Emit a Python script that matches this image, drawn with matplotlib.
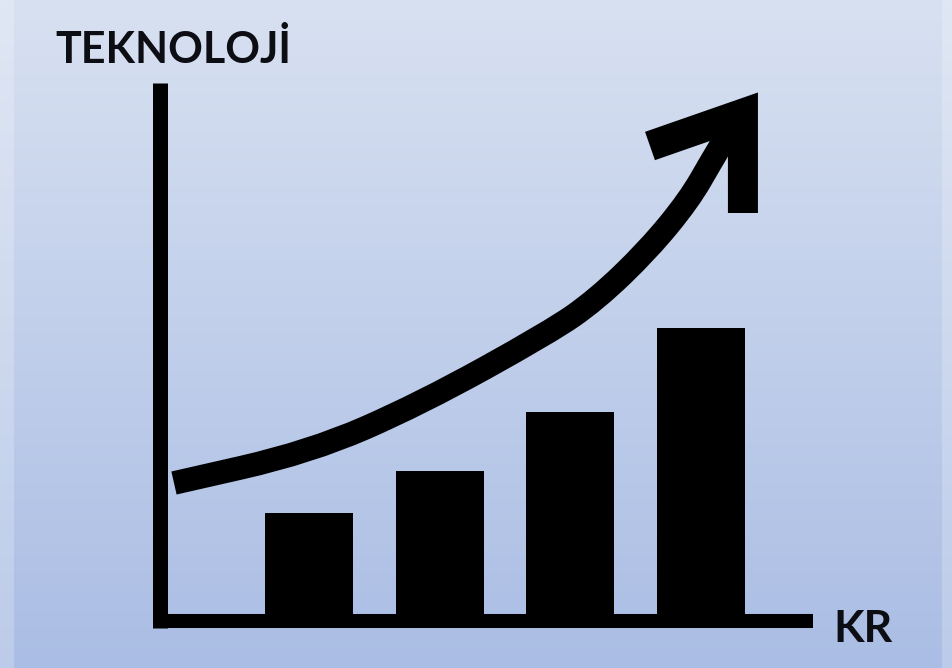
import numpy as np
import matplotlib
matplotlib.use("Agg")
import matplotlib.pyplot as plt
from matplotlib.path import Path
from matplotlib.patches import PathPatch

# Bar heights (technology level for each period)
bar_positions = [1, 2, 3, 4]
bar_values = [1.01, 1.43, 2.02, 2.86]

# Growth trend drawn over the bars
trend_x = [-0.033, 1.008, 1.849, 2.844, 3.196, 3.594, 3.908, 4.084, 4.222]
trend_y = [1.31, 1.62, 2.10, 2.82, 3.14, 3.64, 4.14, 4.54, 4.84]

# Arrow head (open chevron) at the end of the trend
head_x = [3.609, 4.320, 4.320]
head_y = [4.68, 5.004, 4.01]

y_label = "TEKNOLOJİ"
x_label = "KR"

W, H = 953, 668
fig = plt.figure(figsize=(W / 100, H / 100), dpi=100)
ax = fig.add_axes([0, 0, 1, 1])
ax.set_xlim(-1.3642, 5.9273)
ax.set_ylim(-0.54, 6.14)
ax.axis("off")

# Vertical background gradient
top = np.array([216, 225, 241]) / 255
bot = np.array([170, 189, 228]) / 255
t = np.linspace(0, 1, 256)[:, None]
grad = top[None, :] * (1 - t) + bot[None, :] * t
img = np.repeat(grad[:, None, :], 2, axis=1)
ax.imshow(img, extent=[-1.3642, 5.9273, -0.54, 6.14], aspect="auto", zorder=0)

# Light strips at the left and right edges
xl0, xl1 = ax.get_xlim()
px = (xl1 - xl0) / W
ax.axvspan(xl0, xl0 + 14 * px, color="white", alpha=0.22, lw=0, zorder=0.5)
ax.axvspan(xl1 - 11 * px, xl1, color="white", alpha=0.22, lw=0, zorder=0.5)

# Axes drawn as thick black strokes
ax.plot([-0.1362, -0.1362], [-0.14, 5.31], color="black", lw=10.8,
        solid_capstyle="butt", zorder=3)
ax.plot([-0.193, 4.856], [-0.07, -0.07], color="black", lw=10.1,
        solid_capstyle="butt", zorder=3)

# Bars
ax.bar(bar_positions, bar_values, width=0.673, bottom=0, color="black",
       zorder=2, linewidth=0)

# Trend curve: smooth quadratic path guided by the trend points
pts = list(zip(trend_x, trend_y))
verts = [pts[0]]
codes = [Path.MOVETO]
mid = lambda a, b: ((a[0] + b[0]) / 2, (a[1] + b[1]) / 2)
verts.append(mid(pts[0], pts[1]))
codes.append(Path.LINETO)
for i in range(1, len(pts) - 1):
    verts += [pts[i], mid(pts[i], pts[i + 1])]
    codes += [Path.CURVE3, Path.CURVE3]
verts.append(pts[-1])
codes.append(Path.LINETO)
ax.add_patch(PathPatch(Path(verts, codes), facecolor="none", edgecolor="black",
                       lw=17, capstyle="butt", joinstyle="round", zorder=4))

# Arrow head
ax.plot(head_x, head_y, color="black", lw=21.6, solid_capstyle="butt",
        solid_joinstyle="miter", zorder=4)

# Labels
ax.text(-0.943, 5.51, y_label, ha="left", va="baseline", fontsize=31,
        fontweight="bold", family=["Lato", "DejaVu Sans"], color="#0d0d14",
        zorder=5)
ax.text(5.009, -0.28, x_label, ha="left", va="baseline", fontsize=32,
        fontweight="bold", family=["Lato", "DejaVu Sans"], color="#0d0d14",
        zorder=5)

fig.savefig("out.png", dpi=100)
